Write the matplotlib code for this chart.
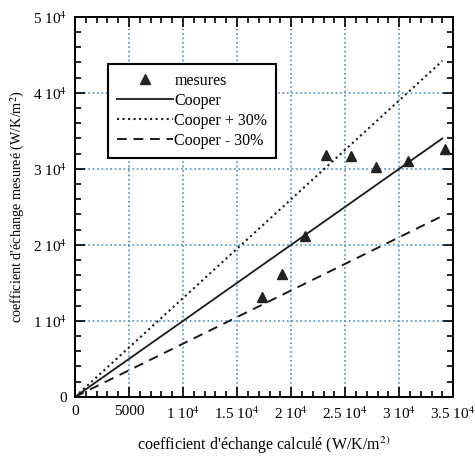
import numpy as np
import matplotlib
matplotlib.use('Agg')
import matplotlib.pyplot as plt
from matplotlib.ticker import MultipleLocator, FixedLocator

plt.rcParams['font.family'] = ['Liberation Serif', 'DejaVu Serif']
plt.rcParams['mathtext.fontset'] = 'stix'

# measured points (calculated coefficient, measured coefficient) in W/K/m2
calc = [17300, 19200, 21300, 23200, 25500, 27900, 30800, 34200]
meas = [13200, 16200, 21100, 31800, 31700, 30300, 31000, 32600]

# Cooper correlation range
cooper_x = np.array([0, 34000])
margin = 0.30

xticks = [0, 5000, 10000, 15000, 20000, 25000, 30000, 35000]
xlabels = ['0', '5000', '1 10$^4$', '1.5 10$^4$', '2 10$^4$', '2.5 10$^4$', '3 10$^4$', '3.5 10$^4$']
yticks = [0, 10000, 20000, 30000, 40000, 50000]
ylabels = ['0', '1 10$^4$', '2 10$^4$', '3 10$^4$', '4 10$^4$', '5 10$^4$']

fig = plt.figure(figsize=(4.75, 4.68), dpi=100)
ax = fig.add_axes([0.158, 0.152, 0.796, 0.812])

ax.plot(calc, meas, linestyle='none', marker='^', color='#222222', markersize=7.5, label='mesures')
ax.plot(cooper_x, cooper_x, '-', color='#1a1a1a', lw=1.3, label='Cooper')
ax.plot(cooper_x, cooper_x * (1 + margin), ':', color='#1a1a1a', lw=1.5, label='Cooper + 30%')
ax.plot(cooper_x, cooper_x * (1 - margin), color='#1a1a1a', lw=1.4, dashes=(5, 3.5), label='Cooper - 30%')

ax.set_xlim(0, 35000)
ax.set_ylim(0, 50000)
ax.xaxis.set_major_locator(FixedLocator(xticks))
ax.set_xticklabels(xlabels)
ax.xaxis.set_minor_locator(MultipleLocator(1000))
ax.yaxis.set_major_locator(FixedLocator(yticks))
ax.set_yticklabels(ylabels)
ax.yaxis.set_minor_locator(MultipleLocator(2000))

ax.tick_params(which='both', direction='in', top=True, right=True, labelsize=11, width=1.2)
ax.tick_params(which='major', length=7, pad=6)
ax.tick_params(which='minor', length=4)
for s in ax.spines.values():
    s.set_linewidth(1.4)

ax.grid(True, which='major', color='#4f8fbf', linestyle=':', lw=1.2)

ax.set_xlabel('coefficient d\'échange calculé (W/K/m$^{2)}$', fontsize=11.5, labelpad=9)
ax.set_ylabel('coefficient d\'échange mesureé (W/K/m$^2$)', fontsize=10.2, labelpad=4)

leg = ax.legend(loc='upper left', bbox_to_anchor=(0.087, 0.876), borderaxespad=0,
                fancybox=False, edgecolor='black', framealpha=1, fontsize=11.5,
                handlelength=3.5, handletextpad=0.1, labelspacing=0.25, borderpad=0.55)
leg.get_frame().set_linewidth(1.5)

fig.savefig('out.png', dpi=100)
